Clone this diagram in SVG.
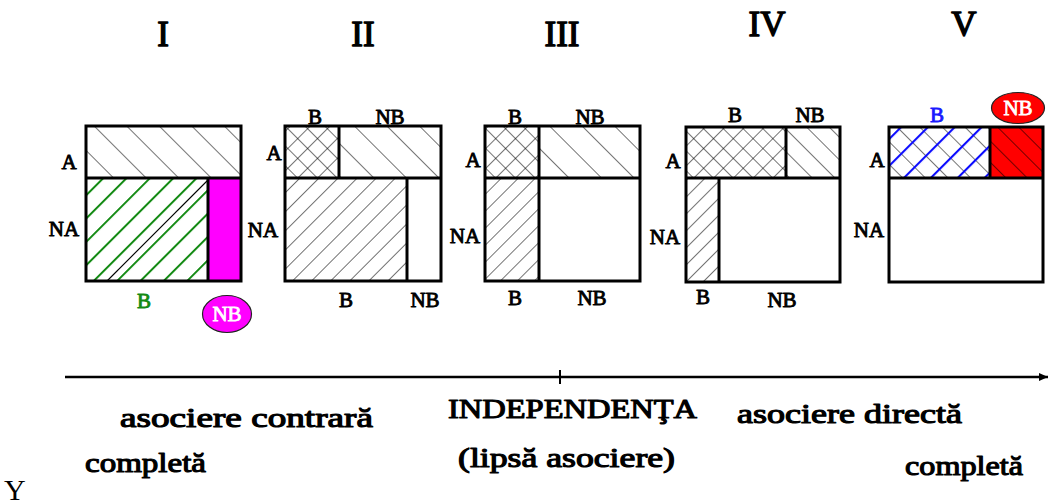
<svg xmlns="http://www.w3.org/2000/svg" width="1051" height="504" viewBox="0 0 1051 504">
  <style>
    text { font-family: 'Liberation Serif', 'Times New Roman', serif; font-weight: normal; }
    .t { fill: #000; stroke: #000; stroke-width: 1; stroke-linejoin: round; }
    .lbl { font-size: 21px; text-anchor: middle; stroke-width: 0.9; }
    .num { font-size: 35px; text-anchor: middle; stroke-width: 1.4; }
    .cap { font-size: 27px; stroke-width: 1.1; }
    .green { fill: #138a13; stroke: #138a13; }
    .blueT { fill: #1a1aff; stroke: #1a1aff; }
    .box { fill: none; stroke: #000; stroke-width: 3; }
    .div { stroke: #000; stroke-width: 3; fill: none; }
    .bub { font-size: 21px; fill: #fff; stroke: #fff; stroke-width: 0.8; text-anchor: middle; }
  </style>
  <defs>
    <!-- thin "\" hatching, wide spacing -->
    <pattern id="bsWide" patternUnits="userSpaceOnUse" width="23" height="23" patternTransform="rotate(-45)">
      <line x1="0" y1="0" x2="0" y2="23" stroke="#000" stroke-width="1.1"/>
    </pattern>
    <!-- thin "\" hatching, medium spacing -->
    <pattern id="bsMed" patternUnits="userSpaceOnUse" width="16" height="16" patternTransform="rotate(-45)">
      <line x1="0" y1="0" x2="0" y2="16" stroke="#000" stroke-width="1.1"/>
    </pattern>
    <!-- thin "/" hatching -->
    <pattern id="fsThin" patternUnits="userSpaceOnUse" width="13.5" height="13.5" patternTransform="rotate(45)">
      <line x1="0" y1="0" x2="0" y2="13.5" stroke="#000" stroke-width="1.1"/>
    </pattern>
    <pattern id="fsThinN" patternUnits="userSpaceOnUse" width="12" height="12" patternTransform="rotate(45)">
      <line x1="0" y1="0" x2="0" y2="12" stroke="#000" stroke-width="1.1"/>
    </pattern>
    <!-- cross hatching -->
    <pattern id="xA" patternUnits="userSpaceOnUse" width="14" height="14" patternTransform="rotate(45)">
      <line x1="0" y1="0" x2="0" y2="14" stroke="#000" stroke-width="1.1"/>
    </pattern>
    <pattern id="xB" patternUnits="userSpaceOnUse" width="14" height="14" patternTransform="rotate(-45)">
      <line x1="0" y1="0" x2="0" y2="14" stroke="#000" stroke-width="1.1"/>
    </pattern>
    <!-- thick coloured "/" hatching -->
    <pattern id="green" patternUnits="userSpaceOnUse" width="16.5" height="16.5" patternTransform="rotate(45)">
      <line x1="0" y1="0" x2="0" y2="16.5" stroke="#138a13" stroke-width="4"/>
    </pattern>
    <pattern id="blue" patternUnits="userSpaceOnUse" width="19" height="19" patternTransform="rotate(45) translate(4 0)">
      <line x1="0" y1="0" x2="0" y2="19" stroke="#0a0aff" stroke-width="4.2"/>
    </pattern>
    <pattern id="redH" patternUnits="userSpaceOnUse" width="15" height="15" patternTransform="rotate(-45)">
      <rect x="0" y="0" width="15" height="15" fill="#ff0000"/>
      <line x1="0" y1="0" x2="0" y2="15" stroke="#000" stroke-width="1.1"/>
    </pattern>
    <marker id="arrow" markerUnits="userSpaceOnUse" markerWidth="10" markerHeight="10" refX="9" refY="5" orient="auto">
      <path d="M0,1 L9,5 L0,9 Z" fill="#000"/>
    </marker>
  </defs>

  <rect width="1051" height="504" fill="#fff"/>

  <!-- column headings -->
  <g id="headings">
    <text class="t num" x="163" y="46">I</text>
    <text class="t num" x="363" y="46">II</text>
    <text class="t num" x="562" y="46">III</text>
    <text class="t num" x="767" y="36">IV</text>
    <text class="t num" x="964" y="36">V</text>
  </g>

  <!-- I: complete inverse association -->
  <g id="panel-I">
    <rect x="86" y="126" width="155" height="52" fill="url(#bsWide)"/>
    <rect x="86" y="178" width="122" height="103" fill="url(#green)"/>
    <line x1="107" y1="281" x2="208" y2="180" stroke="#000" stroke-width="1.1"/>
    <rect x="208" y="178" width="33" height="103" fill="#ff00ff"/>
    <line class="div" x1="86" y1="178" x2="241" y2="178"/>
    <line class="div" x1="208" y1="178" x2="208" y2="281"/>
    <rect class="box" x="86" y="126" width="155" height="155"/>
    <text class="t lbl" x="69" y="169">A</text>
    <text class="t lbl" x="64" y="236">NA</text>
    <text class="t lbl green" x="144" y="308">B</text>
    <ellipse cx="227" cy="314" rx="24.5" ry="18.5" fill="#ff00ff" stroke="#222" stroke-width="1.2"/>
    <text class="bub" x="227" y="321">NB</text>
  </g>

  <!-- II -->
  <g id="panel-II">
    <rect x="285" y="126" width="54" height="52" fill="url(#xA)"/>
    <rect x="285" y="126" width="54" height="52" fill="url(#xB)"/>
    <rect x="339" y="126" width="102" height="52" fill="url(#bsWide)"/>
    <rect x="285" y="178" width="122" height="103" fill="url(#fsThin)"/>
    <line class="div" x1="285" y1="178" x2="441" y2="178"/>
    <line class="div" x1="339" y1="126" x2="339" y2="178"/>
    <line class="div" x1="407" y1="178" x2="407" y2="281"/>
    <rect class="box" x="285" y="126" width="156" height="155"/>
    <text class="t lbl" x="315" y="124">B</text>
    <text class="t lbl" x="390" y="124">NB</text>
    <text class="t lbl" x="274" y="160">A</text>
    <text class="t lbl" x="263" y="237">NA</text>
    <text class="t lbl" x="346" y="307">B</text>
    <text class="t lbl" x="425" y="307">NB</text>
  </g>

  <!-- III: independence -->
  <g id="panel-III">
    <rect x="485" y="126" width="54" height="52" fill="url(#xA)"/>
    <rect x="485" y="126" width="54" height="52" fill="url(#xB)"/>
    <rect x="539" y="126" width="101" height="52" fill="url(#bsWide)"/>
    <rect x="485" y="178" width="54" height="103" fill="url(#fsThinN)"/>
    <line class="div" x1="485" y1="178" x2="640" y2="178"/>
    <line class="div" x1="539" y1="126" x2="539" y2="281"/>
    <rect class="box" x="485" y="126" width="155" height="155"/>
    <text class="t lbl" x="515" y="124">B</text>
    <text class="t lbl" x="590" y="124">NB</text>
    <text class="t lbl" x="473" y="167">A</text>
    <text class="t lbl" x="465" y="243">NA</text>
    <text class="t lbl" x="515" y="305">B</text>
    <text class="t lbl" x="592" y="305">NB</text>
  </g>

  <!-- IV -->
  <g id="panel-IV">
    <rect x="686" y="127" width="100" height="51" fill="url(#xA)"/>
    <rect x="686" y="127" width="100" height="51" fill="url(#xB)"/>
    <rect x="786" y="127" width="54" height="51" fill="url(#bsMed)"/>
    <rect x="686" y="178" width="33" height="104" fill="url(#fsThinN)"/>
    <line class="div" x1="686" y1="178" x2="840" y2="178"/>
    <line class="div" x1="786" y1="127" x2="786" y2="178"/>
    <line class="div" x1="719" y1="178" x2="719" y2="282"/>
    <rect class="box" x="686" y="127" width="154" height="155"/>
    <text class="t lbl" x="735" y="122">B</text>
    <text class="t lbl" x="810" y="122">NB</text>
    <text class="t lbl" x="673" y="168">A</text>
    <text class="t lbl" x="665" y="244">NA</text>
    <text class="t lbl" x="703" y="304">B</text>
    <text class="t lbl" x="782" y="307">NB</text>
  </g>

  <!-- V: complete direct association -->
  <g id="panel-V">
    <rect x="889" y="127" width="101" height="51" fill="url(#bsMed)"/>
    <rect x="889" y="127" width="101" height="51" fill="url(#blue)"/>
    <rect x="990" y="127" width="53" height="51" fill="url(#redH)"/>
    <line class="div" x1="889" y1="178" x2="1043" y2="178"/>
    <line class="div" x1="990" y1="127" x2="990" y2="178"/>
    <rect class="box" x="889" y="127" width="154" height="155"/>
    <text class="t lbl blueT" x="937" y="122">B</text>
    <text class="t lbl" x="877" y="167">A</text>
    <text class="t lbl" x="869" y="237">NA</text>
    <ellipse cx="1018" cy="108" rx="26.5" ry="15.5" fill="#ff0000" stroke="#222" stroke-width="1.2"/>
    <text class="bub" x="1018" y="115">NB</text>
  </g>

  <!-- association scale -->
  <g id="connectors">
    <line x1="65" y1="377" x2="1048" y2="377" stroke="#000" stroke-width="2.5" marker-end="url(#arrow)"/>
    <line x1="560" y1="370" x2="560" y2="384" stroke="#000" stroke-width="2"/>
  </g>

  <g id="scale-labels">
    <text class="t cap" x="120" y="427" textLength="253" lengthAdjust="spacingAndGlyphs">asociere contrară</text>
    <text class="t cap" x="85" y="472" font-size="25" textLength="121" lengthAdjust="spacingAndGlyphs">completă</text>
    <text class="t cap" x="448" y="418" textLength="249" lengthAdjust="spacingAndGlyphs">INDEPENDENŢA</text>
    <text class="t cap" x="458" y="467" textLength="217" lengthAdjust="spacingAndGlyphs">(lipsă asociere)</text>
    <text class="t cap" x="737" y="423" textLength="225" lengthAdjust="spacingAndGlyphs">asociere directă</text>
    <text class="t cap" x="905" y="475" font-size="25" textLength="118" lengthAdjust="spacingAndGlyphs">completă</text>
  </g>

  <text x="4" y="500" font-size="30" fill="#000">Y</text>
</svg>
